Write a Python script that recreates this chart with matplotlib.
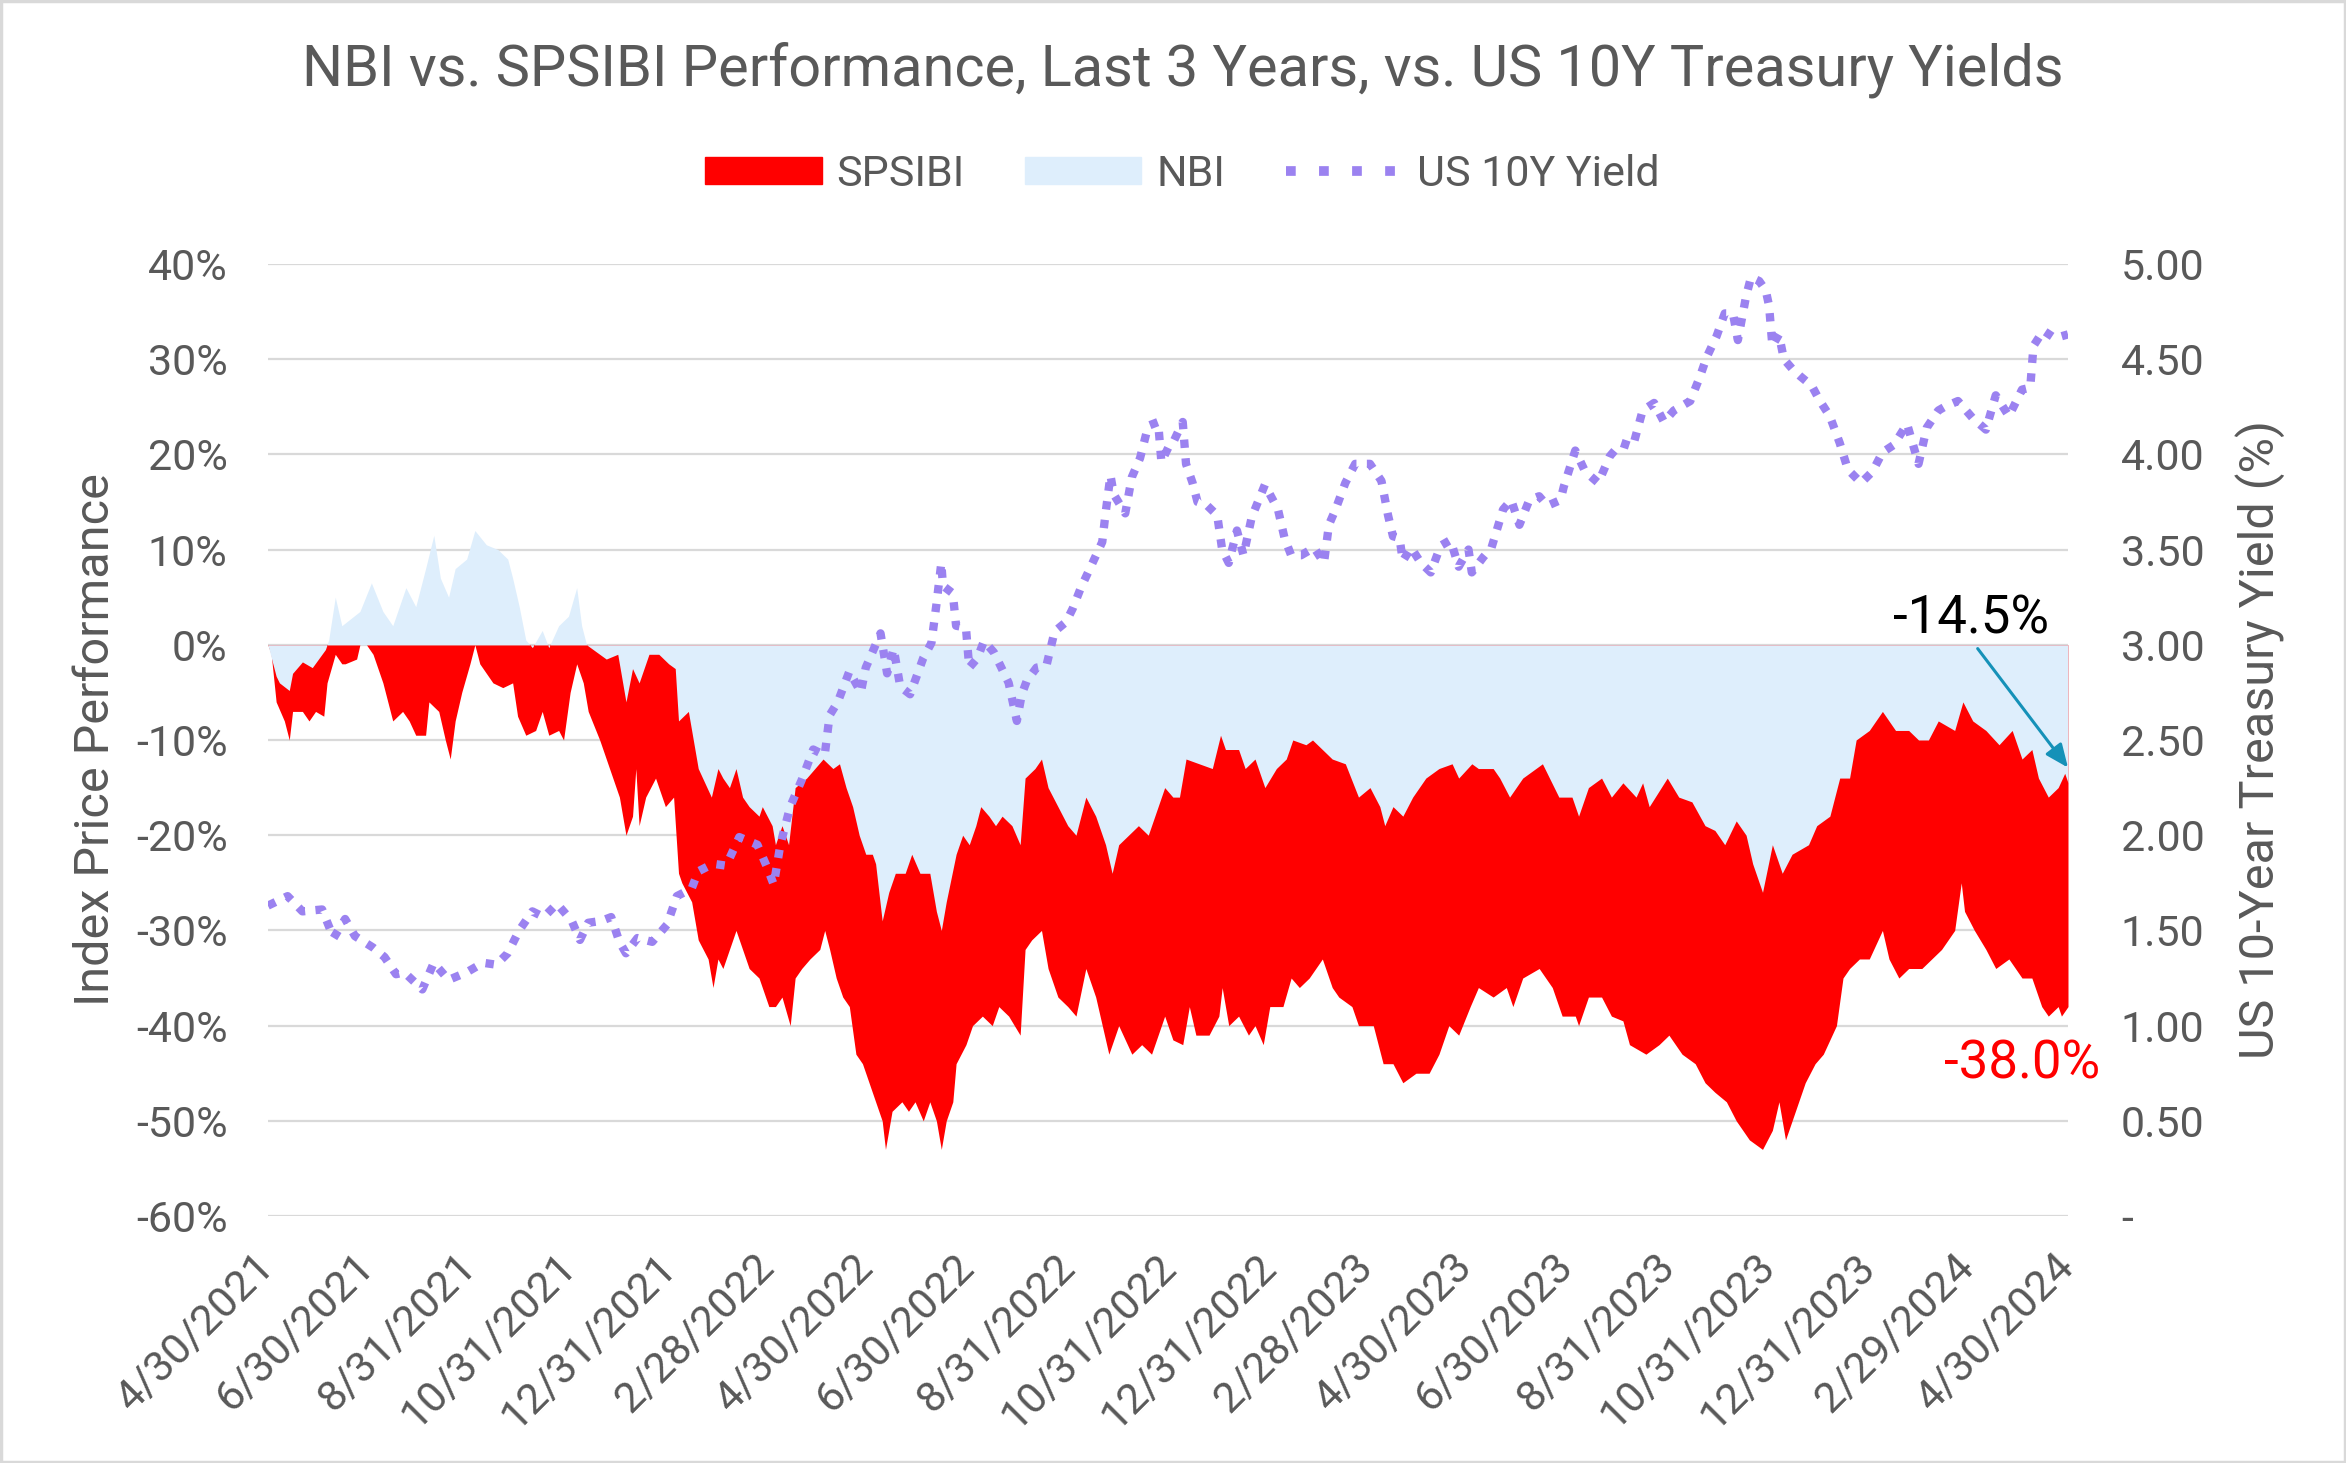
import matplotlib
matplotlib.use("Agg")
import matplotlib.pyplot as plt
import matplotlib.patches as mpatches
from matplotlib.lines import Line2D
import pandas as pd

plt.rcParams['font.family'] = ['Roboto', 'DejaVu Sans']

# ---- data ----
nbi_dates = [
    "2021-04-30", "2021-05-05", "2021-05-07", "2021-05-13", "2021-05-15", "2021-05-21", "2021-05-27",
    "2021-06-04", "2021-06-06", "2021-06-10", "2021-06-14", "2021-06-25", "2021-07-02", "2021-07-09",
    "2021-07-15", "2021-07-23", "2021-07-29", "2021-08-04", "2021-08-09", "2021-08-13", "2021-08-18",
    "2021-08-22", "2021-08-29", "2021-09-03", "2021-09-10", "2021-09-17", "2021-09-23", "2021-09-26",
    "2021-09-30", "2021-10-04", "2021-10-08", "2021-10-14", "2021-10-18", "2021-10-24", "2021-10-30",
    "2021-11-04", "2021-11-07", "2021-11-10", "2021-11-14", "2021-11-22", "2021-11-29", "2021-12-04",
    "2021-12-08", "2021-12-12", "2021-12-18", "2021-12-24", "2021-12-30", "2022-01-03", "2022-01-05",
    "2022-01-11", "2022-01-17", "2022-01-25", "2022-01-29", "2022-02-01", "2022-02-05", "2022-02-09",
    "2022-02-13", "2022-02-17", "2022-02-23", "2022-02-25", "2022-03-03", "2022-03-05", "2022-03-09",
    "2022-03-13", "2022-03-17", "2022-03-24", "2022-04-03", "2022-04-09", "2022-04-13", "2022-04-17",
    "2022-04-21", "2022-04-25", "2022-04-29", "2022-05-03", "2022-05-05", "2022-05-09", "2022-05-13",
    "2022-05-17", "2022-05-23", "2022-05-27", "2022-06-01", "2022-06-07", "2022-06-11", "2022-06-14",
    "2022-06-17", "2022-06-23", "2022-06-27", "2022-07-01", "2022-07-05", "2022-07-08", "2022-07-13",
    "2022-07-17", "2022-07-21", "2022-07-27", "2022-08-01", "2022-08-04", "2022-08-10", "2022-08-14",
    "2022-08-18", "2022-08-24", "2022-08-30", "2022-09-04", "2022-09-10", "2022-09-16", "2022-09-22",
    "2022-09-26", "2022-09-30", "2022-10-06", "2022-10-12", "2022-10-18", "2022-10-24", "2022-10-28",
    "2022-11-02", "2022-11-06", "2022-11-10", "2022-11-18", "2022-11-26", "2022-12-01", "2022-12-04",
    "2022-12-12", "2022-12-16", "2022-12-22", "2022-12-28", "2023-01-04", "2023-01-10", "2023-01-14",
    "2023-01-22", "2023-01-26", "2023-02-01", "2023-02-07", "2023-02-15", "2023-02-23", "2023-03-02",
    "2023-03-08", "2023-03-11", "2023-03-16", "2023-03-22", "2023-03-28", "2023-04-05", "2023-04-13",
    "2023-04-21", "2023-04-25", "2023-05-03", "2023-05-07", "2023-05-16", "2023-05-20", "2023-05-26",
    "2023-06-03", "2023-06-15", "2023-06-25", "2023-07-03", "2023-07-07", "2023-07-13", "2023-07-21",
    "2023-07-27", "2023-08-03", "2023-08-11", "2023-08-15", "2023-08-19", "2023-08-30", "2023-09-06",
    "2023-09-14", "2023-09-22", "2023-09-28", "2023-10-04", "2023-10-11", "2023-10-17", "2023-10-21",
    "2023-10-27", "2023-11-02", "2023-11-06", "2023-11-08", "2023-11-14", "2023-11-24", "2023-11-29",
    "2023-12-07", "2023-12-13", "2023-12-19", "2023-12-23", "2023-12-31", "2024-01-08", "2024-01-16",
    "2024-01-24", "2024-01-30", "2024-02-05", "2024-02-11", "2024-02-21", "2024-02-26", "2024-03-03",
    "2024-03-11", "2024-03-19", "2024-03-27", "2024-04-02", "2024-04-08", "2024-04-12", "2024-04-18",
    "2024-04-24", "2024-04-28", "2024-04-30",
]
nbi_pct = [
    0, -3.3, -4.0, -4.8, -3.0, -1.8, -2.4,
    -0.5, 0.5, 5.0, 2.0, 3.5, 6.5, 3.5,
    2.0, 6.0, 4.0, 8.0, 11.5, 7.0, 5.0,
    8.0, 9.0, 12.0, 10.5, 10.0, 9.0, 7.0,
    4.0, 0.5, -0.3, 1.5, -0.3, 2.0, 3.0,
    6.0, 2.0, 0.0, -0.5, -1.5, -1.0, -6.0,
    -2.5, -4.0, -1.0, -1.0, -2.0, -2.5, -8.0,
    -7.0, -13.0, -16.0, -13.0, -14, -15, -13,
    -16, -17, -18, -17, -19, -21, -19,
    -21, -15, -14, -12, -13, -12.5, -15,
    -17, -20, -22, -22, -23, -29, -26,
    -24, -24, -22, -24, -24, -28, -30,
    -27, -22, -20, -21, -19, -17, -18,
    -19, -18, -19, -21, -14, -13, -12,
    -15, -17, -19, -20, -16, -18, -21,
    -24, -21, -20, -19, -20, -17, -15,
    -16, -16, -12, -12.5, -13, -9.5, -11,
    -11, -13, -12, -15, -13, -12, -10,
    -10.5, -10, -11, -12, -12.5, -16, -15,
    -17, -19, -17, -18, -16, -14, -13,
    -12.5, -14, -12.5, -13, -13, -14, -16,
    -14, -12.5, -16, -16, -18, -15, -14,
    -16, -14.5, -16, -14.5, -17, -14, -16,
    -16.5, -19, -19.5, -21, -18.5, -20, -23,
    -26, -21, -23, -24, -22, -21, -19,
    -18, -14, -14, -10, -9, -7, -9,
    -9, -10, -10, -8, -9, -6, -8,
    -9, -10.5, -9, -12, -11, -14, -16,
    -15, -13.5, -14.5,
]

spsibi_dates = [
    "2021-04-30", "2021-05-02", "2021-05-05", "2021-05-10", "2021-05-13", "2021-05-15", "2021-05-21",
    "2021-05-25", "2021-05-29", "2021-06-03", "2021-06-05", "2021-06-10", "2021-06-14", "2021-06-16",
    "2021-06-23", "2021-06-25", "2021-06-29", "2021-07-03", "2021-07-09", "2021-07-15", "2021-07-21",
    "2021-07-25", "2021-07-29", "2021-08-04", "2021-08-06", "2021-08-12", "2021-08-16", "2021-08-19",
    "2021-08-22", "2021-08-26", "2021-08-31", "2021-09-03", "2021-09-06", "2021-09-14", "2021-09-20",
    "2021-09-26", "2021-09-29", "2021-10-04", "2021-10-10", "2021-10-14", "2021-10-18", "2021-10-24",
    "2021-10-27", "2021-10-31", "2021-11-04", "2021-11-08", "2021-11-11", "2021-11-18", "2021-11-24",
    "2021-11-30", "2021-12-04", "2021-12-08", "2021-12-10", "2021-12-12", "2021-12-16", "2021-12-22",
    "2021-12-24", "2021-12-28", "2022-01-02", "2022-01-05", "2022-01-07", "2022-01-13", "2022-01-17",
    "2022-01-23", "2022-01-26", "2022-01-29", "2022-02-01", "2022-02-05", "2022-02-09", "2022-02-13",
    "2022-02-17", "2022-02-23", "2022-03-01", "2022-03-05", "2022-03-09", "2022-03-14", "2022-03-17",
    "2022-03-21", "2022-03-26", "2022-04-01", "2022-04-04", "2022-04-07", "2022-04-11", "2022-04-15",
    "2022-04-19", "2022-04-23", "2022-04-27", "2022-05-01", "2022-05-05", "2022-05-09", "2022-05-11",
    "2022-05-15", "2022-05-21", "2022-05-25", "2022-05-29", "2022-06-03", "2022-06-07", "2022-06-11",
    "2022-06-14", "2022-06-17", "2022-06-21", "2022-06-23", "2022-06-29", "2022-07-03", "2022-07-09",
    "2022-07-15", "2022-07-19", "2022-07-25", "2022-08-01", "2022-08-04", "2022-08-08", "2022-08-14",
    "2022-08-18", "2022-08-24", "2022-08-30", "2022-09-04", "2022-09-10", "2022-09-16", "2022-09-24",
    "2022-09-30", "2022-10-08", "2022-10-14", "2022-10-20", "2022-10-24", "2022-10-28", "2022-11-02",
    "2022-11-08", "2022-11-12", "2022-11-16", "2022-11-24", "2022-11-30", "2022-12-02", "2022-12-06",
    "2022-12-12", "2022-12-18", "2022-12-22", "2022-12-27", "2022-12-31", "2023-01-08", "2023-01-13",
    "2023-01-18", "2023-01-24", "2023-02-01", "2023-02-07", "2023-02-11", "2023-02-19", "2023-02-23",
    "2023-03-04", "2023-03-10", "2023-03-16", "2023-03-22", "2023-03-30", "2023-04-07", "2023-04-13",
    "2023-04-19", "2023-04-25", "2023-05-02", "2023-05-07", "2023-05-16", "2023-05-24", "2023-05-28",
    "2023-06-03", "2023-06-13", "2023-06-21", "2023-06-27", "2023-07-05", "2023-07-07", "2023-07-13",
    "2023-07-21", "2023-07-27", "2023-08-03", "2023-08-07", "2023-08-17", "2023-08-25", "2023-08-31",
    "2023-09-08", "2023-09-16", "2023-09-22", "2023-09-28", "2023-10-05", "2023-10-11", "2023-10-19",
    "2023-10-27", "2023-11-02", "2023-11-06", "2023-11-10", "2023-11-16", "2023-11-22", "2023-11-28",
    "2023-12-03", "2023-12-11", "2023-12-15", "2023-12-19", "2023-12-25", "2023-12-31", "2024-01-08",
    "2024-01-12", "2024-01-18", "2024-01-24", "2024-02-01", "2024-02-07", "2024-02-13", "2024-02-21",
    "2024-02-25", "2024-02-27", "2024-03-04", "2024-03-11", "2024-03-17", "2024-03-25", "2024-04-02",
    "2024-04-08", "2024-04-14", "2024-04-18", "2024-04-24", "2024-04-26", "2024-04-30",
]
spsibi_pct = [
    0, -1, -6, -8, -10, -7, -7,
    -8, -7, -7.5, -4, -1, -2, -2,
    -1.5, 0, 0, -1, -4, -8, -7,
    -8, -9.5, -9.5, -6, -7, -10, -12,
    -8, -5, -2, 0, -2, -4, -4.5,
    -4, -7.5, -9.5, -9, -7, -9.5, -9,
    -10, -5, -2, -4, -7, -10, -13,
    -16, -20, -18, -13, -19, -16, -14,
    -15, -17, -16, -24, -25, -27, -31,
    -33, -36, -33, -34, -32, -30, -32,
    -34, -35, -38, -38, -37, -40, -35,
    -34, -33, -32, -30, -32, -35, -37,
    -38, -43, -44, -46, -48, -50, -53,
    -49, -48, -49, -48, -50, -48, -50,
    -53, -50, -48, -44, -42, -40, -39,
    -40, -38, -39, -41, -32, -31, -30,
    -34, -37, -38, -39, -34, -37, -43,
    -40, -43, -42, -43, -41, -39, -41.5,
    -42, -38, -41, -41, -39, -36, -40,
    -39, -41, -40, -42, -38, -38, -35,
    -36, -35, -33, -36, -37, -38, -40,
    -40, -44, -44, -46, -45, -45, -43,
    -40, -41, -38, -36, -37, -36, -38,
    -35, -34, -36, -39, -39, -40, -37,
    -37, -39, -39.5, -42, -43, -42, -41,
    -43, -44, -46, -47, -48, -50, -52,
    -53, -51, -48, -52, -49, -46, -44,
    -43, -40, -35, -34, -33, -33, -30,
    -33, -35, -34, -34, -33, -32, -30,
    -25, -28, -30, -32, -34, -33, -35,
    -35, -38, -39, -38, -39, -38,
]

yield_dates = [
    "2021-04-30", "2021-05-12", "2021-05-21", "2021-06-02", "2021-06-09", "2021-06-16", "2021-06-22",
    "2021-07-03", "2021-07-10", "2021-07-17", "2021-07-22", "2021-08-02", "2021-08-09", "2021-08-18",
    "2021-08-29", "2021-09-08", "2021-09-16", "2021-09-23", "2021-09-30", "2021-10-08", "2021-10-15",
    "2021-10-23", "2021-11-01", "2021-11-06", "2021-11-11", "2021-11-19", "2021-11-25", "2021-11-30",
    "2021-12-04", "2021-12-11", "2021-12-20", "2021-12-29", "2022-01-04", "2022-01-13", "2022-01-17",
    "2022-01-26", "2022-02-03", "2022-02-11", "2022-02-22", "2022-02-28", "2022-03-04", "2022-03-08",
    "2022-03-14", "2022-03-21", "2022-03-28", "2022-04-04", "2022-04-07", "2022-04-12", "2022-04-19",
    "2022-04-26", "2022-04-29", "2022-05-04", "2022-05-08", "2022-05-12", "2022-05-16", "2022-05-20",
    "2022-05-26", "2022-06-03", "2022-06-08", "2022-06-11", "2022-06-14", "2022-06-15", "2022-06-21",
    "2022-06-23", "2022-06-29", "2022-07-01", "2022-07-06", "2022-07-10", "2022-07-16", "2022-07-20",
    "2022-07-25", "2022-07-30", "2022-08-02", "2022-08-05", "2022-08-11", "2022-08-17", "2022-08-22",
    "2022-08-29", "2022-09-02", "2022-09-07", "2022-09-13", "2022-09-20", "2022-09-22", "2022-09-25",
    "2022-09-27", "2022-10-04", "2022-10-08", "2022-10-13", "2022-10-18", "2022-10-24", "2022-10-26",
    "2022-10-31", "2022-11-02", "2022-11-08", "2022-11-10", "2022-11-14", "2022-11-17", "2022-11-23",
    "2022-11-29", "2022-12-02", "2022-12-06", "2022-12-11", "2022-12-15", "2022-12-20", "2022-12-28",
    "2023-01-05", "2023-01-09", "2023-01-13", "2023-01-19", "2023-01-27", "2023-02-02", "2023-02-05",
    "2023-02-09", "2023-02-15", "2023-02-21", "2023-03-02", "2023-03-09", "2023-03-13", "2023-03-16",
    "2023-03-20", "2023-03-22", "2023-03-27", "2023-04-02", "2023-04-08", "2023-04-14", "2023-04-20",
    "2023-04-25", "2023-05-01", "2023-05-03", "2023-05-10", "2023-05-15", "2023-05-22", "2023-05-27",
    "2023-06-01", "2023-06-07", "2023-06-13", "2023-06-18", "2023-06-26", "2023-06-28", "2023-07-05",
    "2023-07-11", "2023-07-19", "2023-07-26", "2023-08-02", "2023-08-09", "2023-08-15", "2023-08-22",
    "2023-08-28", "2023-09-03", "2023-09-13", "2023-09-19", "2023-09-23", "2023-09-29", "2023-10-04",
    "2023-10-09", "2023-10-12", "2023-10-17", "2023-10-20", "2023-10-25", "2023-10-29", "2023-10-31",
    "2023-11-02", "2023-11-06", "2023-11-09", "2023-11-14", "2023-11-19", "2023-11-26", "2023-12-01",
    "2023-12-07", "2023-12-13", "2023-12-18", "2023-12-26", "2024-01-02", "2024-01-08", "2024-01-15",
    "2024-01-23", "2024-01-30", "2024-02-04", "2024-02-11", "2024-02-15", "2024-02-23", "2024-03-03",
    "2024-03-11", "2024-03-17", "2024-03-25", "2024-04-02", "2024-04-07", "2024-04-09", "2024-04-15",
    "2024-04-22", "2024-04-30",
]
yield_vals = [
    1.63, 1.68, 1.60, 1.61, 1.46, 1.56, 1.47,
    1.41, 1.36, 1.27, 1.28, 1.19, 1.33, 1.24,
    1.28, 1.33, 1.32, 1.38, 1.50, 1.60, 1.57,
    1.64, 1.55, 1.45, 1.54, 1.55, 1.57, 1.44,
    1.38, 1.46, 1.44, 1.53, 1.68, 1.72, 1.81,
    1.85, 1.84, 1.99, 1.95, 1.83, 1.74, 1.95,
    2.15, 2.29, 2.45, 2.42, 2.63, 2.70, 2.86,
    2.75, 2.88, 2.98, 3.06, 2.85, 2.98, 2.78,
    2.74, 2.93, 3.01, 3.21, 3.43, 3.31, 3.27,
    3.10, 3.09, 2.88, 2.93, 3.02, 2.96, 2.89,
    2.80, 2.60, 2.74, 2.81, 2.88, 2.89, 3.07,
    3.12, 3.19, 3.30, 3.41, 3.54, 3.69, 3.89,
    3.79, 3.69, 3.88, 3.98, 4.15, 4.17, 3.96,
    4.05, 4.06, 4.17, 3.95, 3.85, 3.75, 3.73,
    3.68, 3.50, 3.43, 3.60, 3.47, 3.67, 3.84,
    3.71, 3.56, 3.47, 3.47, 3.51, 3.43, 3.63,
    3.71, 3.85, 3.95, 3.95, 3.86, 3.68, 3.57,
    3.56, 3.44, 3.51, 3.43, 3.38, 3.52, 3.55,
    3.41, 3.50, 3.38, 3.46, 3.51, 3.71, 3.76,
    3.63, 3.76, 3.78, 3.73, 3.76, 3.83, 4.02,
    3.91, 3.85, 3.99, 4.06, 4.04, 4.23, 4.27,
    4.17, 4.23, 4.28, 4.41, 4.51, 4.62, 4.74,
    4.74, 4.60, 4.83, 4.93, 4.91, 4.86, 4.78,
    4.57, 4.63, 4.50, 4.45, 4.41, 4.36, 4.28,
    4.20, 4.06, 3.92, 3.85, 3.91, 4.01, 4.05,
    4.16, 3.95, 4.14, 4.23, 4.25, 4.28, 4.19,
    4.13, 4.31, 4.20, 4.34, 4.35, 4.57, 4.65,
    4.61, 4.63,
]

tick_dates = ["2021-04-30", "2021-06-30", "2021-08-31", "2021-10-31", "2021-12-31", "2022-02-28",
              "2022-04-30", "2022-06-30", "2022-08-31", "2022-10-31", "2022-12-31", "2023-02-28",
              "2023-04-30", "2023-06-30", "2023-08-31", "2023-10-31", "2023-12-31", "2024-02-29",
              "2024-04-30"]
tick_labels = ["4/30/2021", "6/30/2021", "8/31/2021", "10/31/2021", "12/31/2021", "2/28/2022",
               "4/30/2022", "6/30/2022", "8/31/2022", "10/31/2022", "12/31/2022", "2/28/2023",
               "4/30/2023", "6/30/2023", "8/31/2023", "10/31/2023", "12/31/2023", "2/29/2024",
               "4/30/2024"]

nbi_last = -14.5
spsibi_last = -38.0

RED = "#FF0000"
BLUE = "#DEEEFC"
PURPLE = "#9B82F0"
GRAY = "#595959"
GRID = "#D9D9D9"

nbi_x = pd.to_datetime(nbi_dates)
sps_x = pd.to_datetime(spsibi_dates)
yld_x = pd.to_datetime(yield_dates)
ticks_x = pd.to_datetime(tick_dates)

fig = plt.figure(figsize=(23.46, 14.63), dpi=100)
ax = fig.add_axes([0.1142, 0.1688, 0.8815 - 0.1142, 0.8196 - 0.1688])
ax2 = ax.twinx()

ax.fill_between(sps_x, 0, spsibi_pct, color=RED, lw=0, zorder=2)
ax.fill_between(nbi_x, 0, nbi_pct, color=BLUE, lw=0, zorder=3)
ax2.plot(yld_x, yield_vals, color=PURPLE, lw=6.0, linestyle=(0, (1, 1.25)),
         solid_capstyle="butt", dash_capstyle="butt")

ax.set_xlim(ticks_x[0], ticks_x[-1])
ax.set_ylim(-60, 40)
ax2.set_ylim(0, 5)
ax.set_yticks(range(-60, 41, 10))
ax.set_yticklabels([f"{v}%" for v in range(-60, 41, 10)])
ax2.set_yticks([i * 0.5 for i in range(11)])
ax2.set_yticklabels(["-"] + [f"{i * 0.5:.2f}" for i in range(1, 11)])

ax.set_xticks(ticks_x)
ax.set_xticklabels(tick_labels, rotation=45, ha="right", va="center", rotation_mode="anchor")

ax.set_axisbelow(True)
ax.grid(axis="y", color=GRID, lw=1.6)
ax.grid(axis="x", visible=False)
for a in (ax, ax2):
    for s in a.spines.values():
        s.set_visible(False)
ax.tick_params(axis="y", length=0, pad=29, labelsize=31, labelcolor=GRAY)
ax.tick_params(axis="x", length=0, pad=32, labelsize=31, labelcolor=GRAY)
ax2.tick_params(axis="y", length=0, pad=38, labelsize=31, labelcolor=GRAY)

ax.set_ylabel("Index Price Performance", fontsize=35, color=GRAY)
ax.yaxis.set_label_coords(-0.083, 0.5)
ax2.set_ylabel("US 10-Year Treasury Yield (%)", fontsize=35, color=GRAY)
ax2.yaxis.set_label_coords(1.093, 0.5)

fig.suptitle("NBI vs. SPSIBI Performance, Last 3 Years, vs. US 10Y Treasury Yields",
             x=0.504, y=0.952, va="center", fontsize=41.5, color=GRAY)

handles = [
    mpatches.Patch(color=RED, label="SPSIBI"),
    mpatches.Patch(color=BLUE, label="NBI"),
    Line2D([], [], color=PURPLE, lw=7, linestyle=(0, (1, 2.4)), label="US 10Y Yield"),
]
fig.legend(handles=handles, loc="center", bbox_to_anchor=(0.504, 0.881), ncol=3,
           frameon=False, fontsize=31, labelcolor=GRAY, handlelength=2.7,
           handleheight=0.6, handletextpad=0.35, columnspacing=1.4)

# end-value callouts
ax.text(pd.Timestamp("2024-03-02"), 2.7, f"{nbi_last:.1f}%", fontsize=38, color="black",
        ha="center", va="center", zorder=6)
ax.annotate("", xy=(ticks_x[-1], -12.9), xytext=(pd.Timestamp("2024-03-06"), -0.4),
            arrowprops=dict(arrowstyle="-|>,head_length=1.4,head_width=0.6", color="#1591B8",
                            lw=2.2, shrinkA=0, shrinkB=0), zorder=6)
ax.text(pd.Timestamp("2024-04-02"), -44, f"{spsibi_last:.1f}%", fontsize=38, color=RED,
        ha="center", va="center", zorder=6, clip_on=False)

fig.patches.append(mpatches.Rectangle((0.0005, 0.0005), 0.999, 0.999, transform=fig.transFigure,
                                      fill=False, edgecolor=GRID, lw=2.5))

fig.savefig("out.png", dpi=100)
